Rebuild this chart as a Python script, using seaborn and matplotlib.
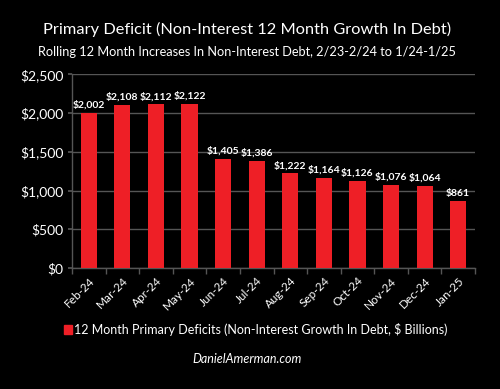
import matplotlib
matplotlib.use("Agg")
import matplotlib.pyplot as plt
import matplotlib.patches as mpatches
import seaborn as sns
import pandas as pd
import numpy as np

months = ["Feb-24", "Mar-24", "Apr-24", "May-24", "Jun-24", "Jul-24",
          "Aug-24", "Sep-24", "Oct-24", "Nov-24", "Dec-24", "Jan-25"]
deficits = [2002, 2108, 2112, 2122, 1405, 1386, 1222, 1164, 1126, 1076, 1064, 861]
yticks = [0, 500, 1000, 1500, 2000, 2500]

df = pd.DataFrame({"month": months, "deficit": deficits})

sns.set_theme(style="dark")
plt.rcParams["font.family"] = ["Lato", "DejaVu Sans"]

red = "#ee1f26"
grid = "#555555"

fig = plt.figure(figsize=(5, 3.89), dpi=100, facecolor="black")
ax = fig.add_axes([0.144, 0.311, 0.806, 0.498])
ax.set_facecolor("black")

sns.barplot(data=df, x="month", y="deficit", color=red, width=0.48,
            saturation=1, edgecolor=red, linewidth=0, ax=ax, zorder=3)

for i, v in enumerate(deficits):
    ax.text(i, v + 40, f"${v:,}", ha="center", va="bottom", color="white",
            fontsize=7.5, fontweight="bold")

ax.set_ylim(0, 2500)
ax.set_yticks(yticks)
ax.set_yticklabels([f"${t:,}" for t in yticks], color="white", fontsize=10)
ax.set_xlim(-0.5, len(months) - 0.5)
ax.set_xticks(range(len(months)))
ax.set_xticklabels(months, rotation=45, ha="right", rotation_mode="anchor",
                   color="white", fontsize=8.5)
ax.tick_params(axis="x", length=0, pad=5)
ax.set_xticks(np.arange(-0.5, len(months)), minor=True)
ax.tick_params(axis="x", which="minor", length=4, color=grid, direction="out", bottom=True)
ax.tick_params(axis="y", length=3, color=grid, left=True, pad=3)
ax.yaxis.grid(True, color=grid, linewidth=1)
ax.xaxis.grid(False)
ax.set_xlabel("")
ax.set_ylabel("")
for s in ["top", "right"]:
    ax.spines[s].set_visible(False)
for s in ["left", "bottom"]:
    ax.spines[s].set_color(grid)
    ax.spines[s].set_linewidth(1)

fig.text(0.495, 0.925, "Primary Deficit (Non-Interest 12 Month Growth In Debt)",
         ha="center", va="center", color="white", fontsize=11.8)
fig.text(0.493, 0.866, "Rolling 12 Month Increases In Non-Interest Debt, 2/23-2/24 to 1/24-1/25",
         ha="center", va="center", color="white", fontsize=9.2)

fig.patches.append(mpatches.Rectangle((0.128, 0.142), 0.016, 0.022, color=red,
                                      transform=fig.transFigure, figure=fig))
fig.text(0.149, 0.153, "12 Month Primary Deficits (Non-Interest Growth In Debt, $ Billions)",
         ha="left", va="center", color="white", fontsize=9)
fig.text(0.495, 0.077, "DanielAmerman.com", ha="center", va="center",
         color="white", fontsize=9, style="italic")

fig.savefig("out.png", dpi=100, facecolor="black")
